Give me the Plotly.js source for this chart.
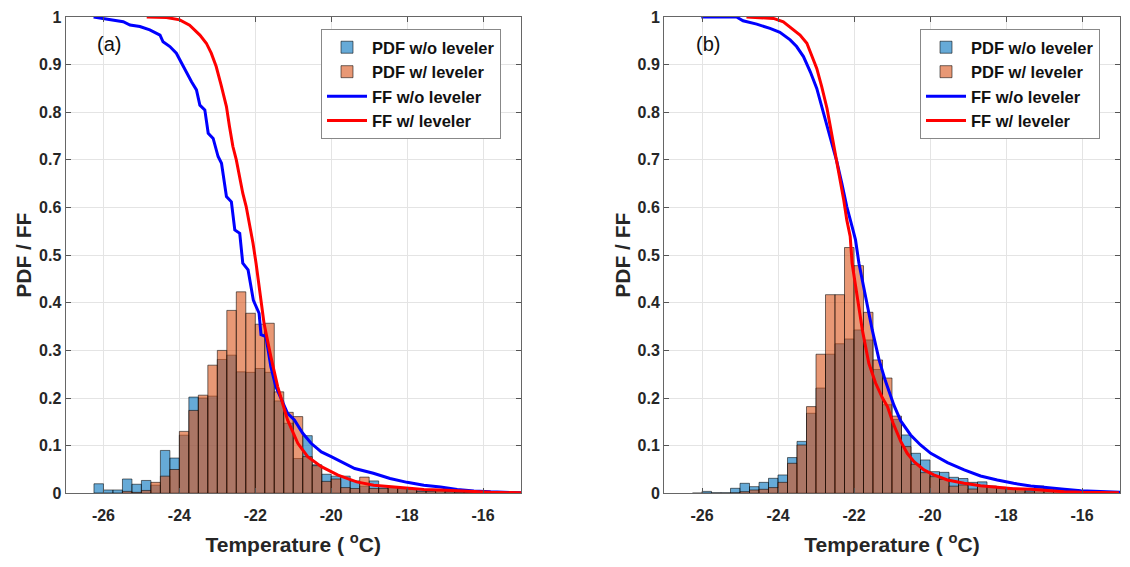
<!DOCTYPE html>
<html>
<head>
<meta charset="utf-8">
<script src="https://cdn.plot.ly/plotly-3.0.1.min.js"></script>
<style>html,body{margin:0;padding:0;background:#fff;}#chart{width:1130px;height:567px;}</style>
</head>
<body>
<div id="chart"></div>
<script>
// Histogram bin centres (bin width 0.25 °C)
const binCenters = [-26.125,-25.875,-25.625,-25.375,-25.125,-24.875,-24.625,-24.375,-24.125,-23.875,
  -23.625,-23.375,-23.125,-22.875,-22.625,-22.375,-22.125,-21.875,-21.625,-21.375,
  -21.125,-20.875,-20.625,-20.375,-20.125,-19.875,-19.625,-19.375,-19.125,-18.875,
  -18.625,-18.375,-18.125,-17.875,-17.625,-17.375,-17.125,-16.875,-16.625,-16.375,
  -16.125,-15.875,-15.625,-15.375,-15.125];
const binWidth = 0.25;

// Panel (a) PDFs
const pdfA_wo = [0.020,0.007,0.007,0.030,0.019,0.027,0.017,0.090,0.074,0.122,
  0.202,0.200,0.204,0.281,0.290,0.255,0.254,0.262,0.254,0.194,
  0.147,0.073,0.121,0.060,0.040,0.036,0.036,0.026,0.015,0.026,
  0.015,0.014,0.012,0.008,0.008,0.006,0.004,0.005,0.006,0.002,
  0.001,0.001,0.0005,0.0005,0];
const pdfA_w = [0,0,0,0.004,0.002,0.006,0.023,0.036,0.050,0.130,
  0.174,0.206,0.269,0.300,0.384,0.423,0.378,0.355,0.357,0.213,
  0.170,0.161,0.077,0.058,0.025,0.030,0.012,0.010,0.034,0.010,
  0.010,0.012,0.010,0.010,0.004,0.004,0.006,0.003,0.002,0.001,
  0.001,0.0005,0,0,0];

// Panel (b) PDFs
const pdfB_wo = [0,0.004,0.001,0.001,0.0105,0.021,0.014,0.023,0.0315,0.0385,
  0.075,0.109,0.168,0.221,0.292,0.314,0.324,0.343,0.322,0.260,
  0.186,0.155,0.1225,0.084,0.070,0.0455,0.044,0.0336,0.031,0.023,
  0.024,0.0154,0.010,0.0084,0.005,0.007,0.0154,0.008,0.007,0.005,
  0.0035,0.002,0.001,0.001,0];
const pdfB_w = [0,0,0,0,0.001,0.0035,0.007,0.0084,0.012,0.023,
  0.063,0.1015,0.182,0.292,0.417,0.417,0.516,0.478,0.380,0.280,
  0.242,0.162,0.098,0.061,0.0434,0.035,0.029,0.015,0.0175,0.009,
  0.015,0.0126,0.0126,0.0105,0.0084,0.003,0.012,0.0105,0.007,0.005,
  0.0035,0.002,0.001,0.0005,0];

// Panel (a) FF curves
const ffA_wo_T = [-26.26,-25.83,-25.48,-25.3,-25.04,-24.78,-24.51,-24.43,-24.25,-24.08,-23.94,-23.81,-23.68,-23.55,-23.46,-23.33,-23.24,-23.11,-22.98,-22.89,-22.76,-22.63,-22.54,-22.41,-22.33,-22.19,-22.1,-22.05,-21.9,-21.85,-21.72,-21.59,-21.46,-21.28,-21.15,-20.97,-20.75,-20.53,-20.26,-20.0,-19.73,-19.38,-18.89,-18.45,-18.0,-17.56,-17.12,-16.68,-16.24,-15.8,-15.0];
const ffA_wo_F = [1.0,0.994,0.99,0.983,0.98,0.973,0.962,0.948,0.938,0.924,0.903,0.882,0.864,0.847,0.815,0.805,0.756,0.745,0.707,0.693,0.623,0.612,0.553,0.546,0.483,0.469,0.427,0.405,0.378,0.333,0.329,0.266,0.224,0.19,0.168,0.154,0.126,0.105,0.087,0.077,0.066,0.052,0.042,0.031,0.023,0.017,0.013,0.008,0.005,0.003,0.001];
const ffA_w_T = [-24.86,-24.34,-23.99,-23.73,-23.46,-23.29,-23.16,-23.03,-22.9,-22.76,-22.68,-22.59,-22.5,-22.41,-22.33,-22.24,-22.15,-22.06,-21.98,-21.89,-21.77,-21.59,-21.41,-21.15,-20.88,-20.62,-20.26,-19.82,-19.33,-18.88,-18.44,-18.0,-17.56,-17.12,-16.68,-16.24,-15.8,-15.0];
const ffA_w_F = [1.0,0.999,0.994,0.983,0.962,0.945,0.924,0.896,0.857,0.812,0.77,0.728,0.7,0.658,0.63,0.602,0.567,0.525,0.483,0.427,0.357,0.287,0.224,0.154,0.105,0.077,0.056,0.038,0.024,0.017,0.014,0.0105,0.008,0.007,0.005,0.003,0.002,0.001];

// Panel (b) FF curves
const ffB_wo_T = [-26.02,-25.09,-24.92,-24.56,-24.21,-23.95,-23.68,-23.51,-23.33,-23.15,-22.98,-22.85,-22.71,-22.58,-22.45,-22.32,-22.19,-22.05,-21.96,-21.87,-21.70,-21.52,-21.34,-21.17,-20.95,-20.77,-20.51,-20.25,-19.98,-19.54,-19.1,-18.67,-18.23,-17.8,-17.35,-16.91,-16.47,-16.03,-15.6,-15.0];
const ffB_wo_F = [1.0,1.0,0.992,0.985,0.976,0.968,0.952,0.938,0.917,0.885,0.850,0.812,0.777,0.735,0.696,0.651,0.602,0.560,0.532,0.483,0.413,0.343,0.280,0.235,0.185,0.152,0.1225,0.1015,0.084,0.0644,0.049,0.0364,0.028,0.021,0.0154,0.0112,0.0084,0.0056,0.0035,0.002];
const ffB_w_T = [-24.83,-24.12,-23.86,-23.64,-23.42,-23.24,-23.11,-22.98,-22.85,-22.71,-22.63,-22.54,-22.45,-22.36,-22.27,-22.19,-22.1,-22.05,-21.92,-21.78,-21.61,-21.43,-21.25,-21.12,-20.97,-20.77,-20.6,-20.42,-20.16,-19.9,-19.54,-19.1,-18.67,-18.23,-17.8,-17.35,-16.9,-16.47,-16.03,-15.03];
const ffB_w_F = [1.0,0.997,0.99,0.976,0.962,0.945,0.92,0.892,0.854,0.808,0.773,0.735,0.696,0.658,0.616,0.574,0.539,0.483,0.413,0.343,0.273,0.231,0.200,0.182,0.147,0.109,0.084,0.0665,0.049,0.0385,0.028,0.021,0.016,0.0126,0.0098,0.0084,0.0056,0.0035,0.002,0.001];

// Tick labels
const xTickVals = [-26,-24,-22,-20,-18,-16];
const xTickText = ['-26','-24','-22','-20','-18','-16'];
const yTickVals = [0,0.1,0.2,0.3,0.4,0.5,0.6,0.7,0.8,0.9,1];
const yTickText = ['0','0.1','0.2','0.3','0.4','0.5','0.6','0.7','0.8','0.9','1'];
const seriesNames = ['PDF w/o leveler','PDF w/ leveler','FF w/o leveler','FF w/ leveler'];
const panelLabels = ['(a)','(b)'];

const FONT = 'Liberation Sans, Arial, Helvetica, sans-serif';
const TXT = '#262626';
const blueFill = 'rgba(0,114,189,0.6)';
const orangeFill = 'rgba(217,83,25,0.6)';
const edge = 'rgba(0,0,0,0.55)';

function panel(xa, ya, leg, pWo, pW, tWo, fWo, tW, fW) {
  return [
    {type:'bar', x:binCenters, y:pWo, width:binWidth, xaxis:xa, yaxis:ya, legend:leg,
     name:'<b>'+seriesNames[0]+'</b>', marker:{color:blueFill, line:{color:edge, width:1}}, hoverinfo:'skip'},
    {type:'bar', x:binCenters, y:pW, width:binWidth, xaxis:xa, yaxis:ya, legend:leg,
     name:'<b>'+seriesNames[1]+'</b>', marker:{color:orangeFill, line:{color:edge, width:1}}, hoverinfo:'skip'},
    {type:'scatter', mode:'lines', x:tWo, y:fWo, xaxis:xa, yaxis:ya, legend:leg,
     name:'<b>'+seriesNames[2]+'</b>', line:{color:'#0000ff', width:3}, hoverinfo:'skip'},
    {type:'scatter', mode:'lines', x:tW, y:fW, xaxis:xa, yaxis:ya, legend:leg,
     name:'<b>'+seriesNames[3]+'</b>', line:{color:'#ff0000', width:3}, hoverinfo:'skip'}
  ];
}

const data = [].concat(
  panel('x','y','legend', pdfA_wo, pdfA_w, ffA_wo_T, ffA_wo_F, ffA_w_T, ffA_w_F),
  panel('x2','y2','legend2', pdfB_wo, pdfB_w, ffB_wo_T, ffB_wo_F, ffB_w_T, ffB_w_F)
);

const W = 1130, H = 567;
function xAxis(d0, d1, anchor) {
  return {domain:[d0/W, d1/W], range:[-27,-15], anchor:anchor,
    tickvals:xTickVals, ticktext:xTickText, ticks:'inside', ticklen:5, tickcolor:'#555',
    showline:true, linecolor:'#666', linewidth:1, mirror:'ticks',
    showgrid:true, gridcolor:'#e4e4e4', zeroline:false, ticklabelstandoff:7,
    tickfont:{family:FONT, size:16, color:TXT, weight:'bold'},
    title:{text:'<b>Temperature ( <sup>o</sup>C)</b>', font:{family:FONT, size:21, color:TXT}, standoff:14},
    automargin:false};
}
function yAxis(anchor) {
  return {domain:[(H-493.3)/H, (H-17)/H], range:[0,1], anchor:anchor,
    tickvals:yTickVals, ticktext:yTickText, ticks:'inside', ticklen:5, tickcolor:'#555',
    showline:true, linecolor:'#666', linewidth:1, mirror:'ticks',
    showgrid:true, gridcolor:'#e4e4e4', zeroline:false,
    tickfont:{family:FONT, size:16, color:TXT, weight:'bold'},
    title:{text:'<b>PDF / FF</b>', font:{family:FONT, size:21, color:TXT}, standoff:1},
    automargin:false};
}
function legendAt(x0) {
  return {x:x0/W, y:1-29/H, xanchor:'left', yanchor:'top', bgcolor:'#fff',
    bordercolor:'#888', borderwidth:1, font:{family:FONT, size:16.5, color:'#111'},
    tracegroupgap:0, itemwidth:40, traceorder:'normal'};
}

const layout = {
  width:W, height:H, margin:{l:0,r:0,t:0,b:0},
  paper_bgcolor:'#fff', plot_bgcolor:'#fff',
  barmode:'overlay', showlegend:true,
  xaxis:xAxis(65.5, 521, 'y'), yaxis:yAxis('x'),
  xaxis2:xAxis(664, 1120, 'y2'), yaxis2:yAxis('x2'),
  legend:legendAt(321), legend2:legendAt(920),
  annotations:[
    {text:panelLabels[0], xref:'paper', yref:'paper', x:95/W, y:1-44/H, xanchor:'left', yanchor:'middle', showarrow:false, font:{family:FONT, size:20, color:'#111'}},
    {text:panelLabels[1], xref:'paper', yref:'paper', x:694/W, y:1-44/H, xanchor:'left', yanchor:'middle', showarrow:false, font:{family:FONT, size:20, color:'#111'}}
  ]
};

Plotly.newPlot('chart', data, layout, {displayModeBar:false, staticPlot:true});
</script>
</body>
</html>
